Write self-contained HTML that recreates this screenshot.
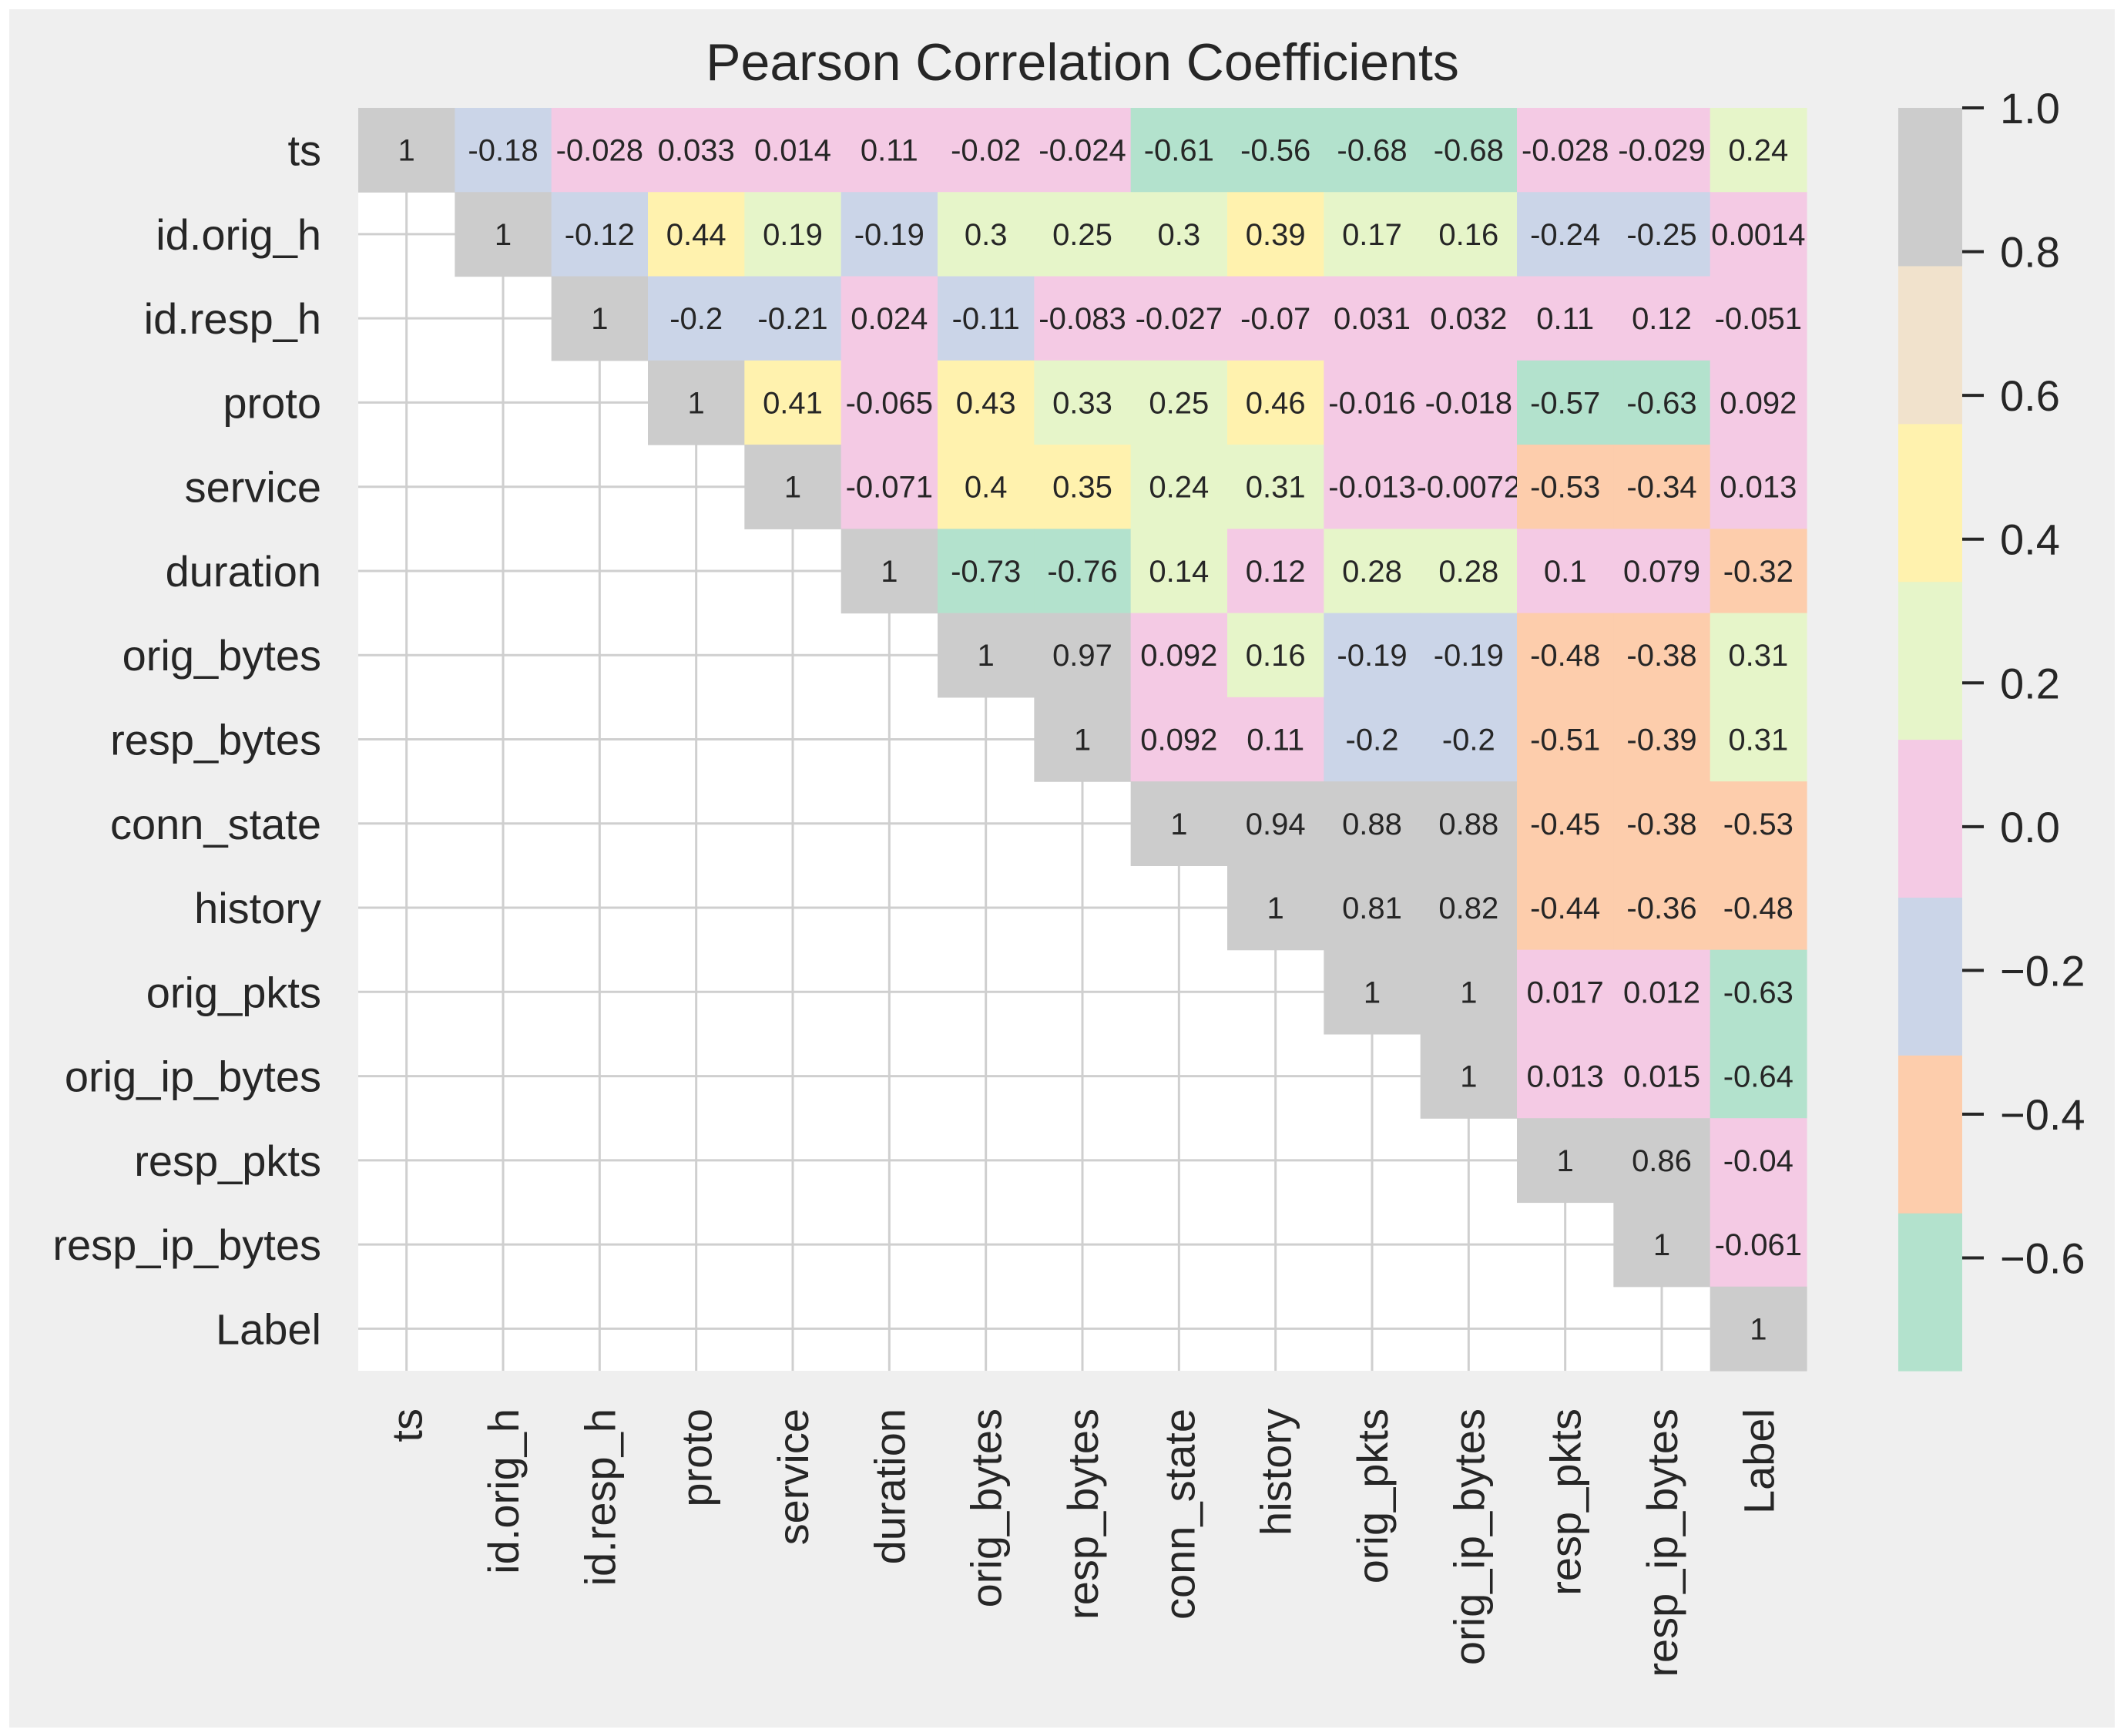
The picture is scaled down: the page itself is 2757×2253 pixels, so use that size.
<!DOCTYPE html>
<html><head><meta charset="utf-8"><style>
html,body{margin:0;padding:0;background:#fff;}
svg{display:block;font-family:"Liberation Sans",Arial,sans-serif;}
</style></head><body>
<svg id="chart" width="2757" height="2253" viewBox="0 0 2757 2253" xmlns="http://www.w3.org/2000/svg">
<rect x="12" y="12" width="2733" height="2230" fill="#efefef"/>
<text x="1405" y="104" font-size="68" text-anchor="middle" fill="#262626">Pearson Correlation Coefficients</text>
<g id="plot"></g>
<g id="cbar"></g>
</svg>
<script>
const labels = ["ts","id.orig_h","id.resp_h","proto","service","duration","orig_bytes","resp_bytes","conn_state","history","orig_pkts","orig_ip_bytes","resp_pkts","resp_ip_bytes","Label"];
const row0 = [1,-0.18,-0.028,0.033,0.014,0.11,-0.02,-0.024,-0.61,-0.56,-0.68,-0.68,-0.028,-0.029,0.24];
const row1 = [1,-0.12,0.44,0.19,-0.19,0.3,0.25,0.3,0.39,0.17,0.16,-0.24,-0.25,0.0014];
const row2 = [1,-0.2,-0.21,0.024,-0.11,-0.083,-0.027,-0.07,0.031,0.032,0.11,0.12,-0.051];
const row3 = [1,0.41,-0.065,0.43,0.33,0.25,0.46,-0.016,-0.018,-0.57,-0.63,0.092];
const row4 = [1,-0.071,0.4,0.35,0.24,0.31,-0.013,-0.0072,-0.53,-0.34,0.013];
const row5 = [1,-0.73,-0.76,0.14,0.12,0.28,0.28,0.1,0.079,-0.32];
const row6 = [1,0.97,0.092,0.16,-0.19,-0.19,-0.48,-0.38,0.31];
const row7 = [1,0.092,0.11,-0.2,-0.2,-0.51,-0.39,0.31];
const row8 = [1,0.94,0.88,0.88,-0.45,-0.38,-0.53];
const row9 = [1,0.81,0.82,-0.44,-0.36,-0.48];
const row10 = [1,1,0.017,0.012,-0.63];
const row11 = [1,0.013,0.015,-0.64];
const row12 = [1,0.86,-0.04];
const row13 = [1,-0.061];
const row14 = [1];
const rows = [row0,row1,row2,row3,row4,row5,row6,row7,row8,row9,row10,row11,row12,row13,row14];
const cbarTicks = [1.0,0.8,0.6,0.4,0.2,0.0,-0.2,-0.4,-0.6];
const palette = ["#b3e2cd","#fdcdac","#cbd5e8","#f4cae4","#e6f5c9","#fff2ae","#f1e2cc","#cccccc"];
const vmin = -0.757, vmax = 1.0;

const NS = "http://www.w3.org/2000/svg";
const X0 = 465, X1 = 2345, Y0 = 140, Y1 = 1779;
const n = labels.length;
const cw = (X1 - X0) / n, ch = (Y1 - Y0) / n;
const xPos = i => X0 + i * cw;
const yPos = i => Y0 + i * ch;
function colorOf(v){ let k = Math.floor((v - vmin) / (vmax - vmin) * palette.length); k = Math.max(0, Math.min(palette.length - 1, k)); return palette[k]; }
function mk(tag, attrs, parent){ const e = document.createElementNS(NS, tag); for (const k in attrs) e.setAttribute(k, attrs[k]); parent.appendChild(e); return e; }
const plot = document.getElementById('plot');
const cbar = document.getElementById('cbar');

const bg = mk('rect', {x:X0, y:Y0, width:X1-X0, height:Y1-Y0, fill:'#ffffff'}, plot);


for (let i = 0; i < n; i++) {
  const gx = mk('line', {x1:xPos(i)+cw/2, x2:xPos(i)+cw/2, y1:Y0, y2:Y1, stroke:'#cfcfcf', 'stroke-width':3}, plot);
  
  
  const gy = mk('line', {x1:X0, x2:X1, y1:yPos(i)+ch/2, y2:yPos(i)+ch/2, stroke:'#cfcfcf', 'stroke-width':3}, plot);
  
  
}
rows.forEach((r, i) => {
  r.forEach((v, k) => {
    const j = i + k;
    const c = mk('rect', {x:xPos(j), y:yPos(i), width:cw+0.6, height:ch+0.6, fill:colorOf(v)}, plot);
    
    
    const t = mk('text', {x:xPos(j)+cw/2, y:yPos(i)+ch/2+14, 'font-size':40, 'text-anchor':'middle', fill:'#262626'}, plot);
    
    
    t.textContent = String(v);
  });
});
labels.forEach((l, i) => {
  const ty = mk('text', {x:417, y:yPos(i)+ch/2+20, 'font-size':56, 'text-anchor':'end', fill:'#262626'}, plot);
  
  
  ty.textContent = l;
  const cx = xPos(i) + cw/2 + 20, cy = 1828;
  const tx = mk('text', {x:cx, y:cy, 'font-size':56, 'text-anchor':'end', fill:'#262626', transform:'rotate(-90 '+cx+' '+cy+')'}, plot);
  
  
  tx.textContent = l;
});

const CX0 = 2464, CX1 = 2547;
const cy = v => Y0 + (vmax - v) / (vmax - vmin) * (Y1 - Y0);
palette.forEach((col, k) => {
  const lo = vmin + k * (vmax - vmin) / palette.length, hi = vmin + (k + 1) * (vmax - vmin) / palette.length;
  const r = mk('rect', {x:CX0, y:cy(hi), width:CX1-CX0, height:cy(lo)-cy(hi)+0.6, fill:col}, cbar);
  
  
});
cbarTicks.forEach(v => {
  const tk = mk('line', {x1:CX1, x2:CX1+28, y1:cy(v), y2:cy(v), stroke:'#262626', 'stroke-width':4}, cbar);
  
  
  const t = mk('text', {x:2596, y:cy(v)+20, 'font-size':56, fill:'#262626'}, cbar);
  
  
  t.textContent = (v < 0 ? '\u2212' : '') + Math.abs(v).toFixed(1);
});
</script>
</body></html>
